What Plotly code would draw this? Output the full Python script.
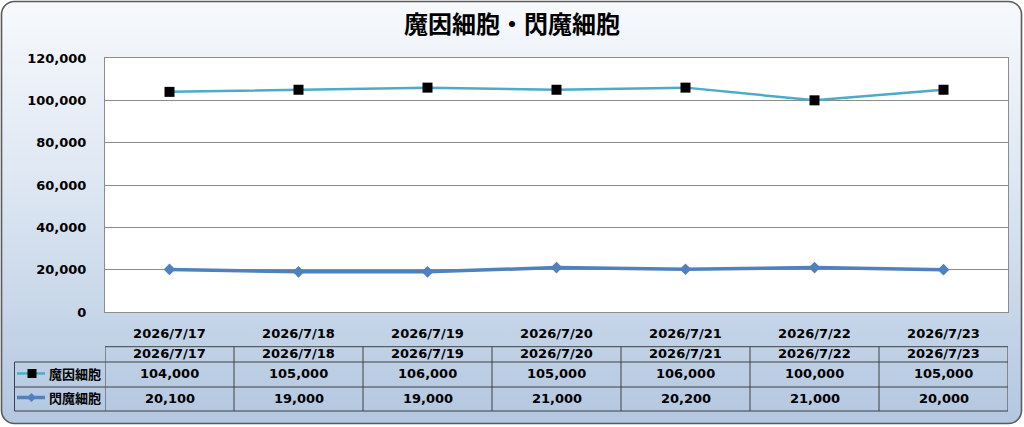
import base64
import plotly.graph_objects as go

# データ
dates = ['2026/7/17', '2026/7/18', '2026/7/19', '2026/7/20', '2026/7/21', '2026/7/22', '2026/7/23']
series_names = ['魔因細胞', '閃魔細胞']
maiin = [104000, 105000, 106000, 105000, 106000, 100000, 105000]
senma = [20100, 19000, 19000, 21000, 20200, 21000, 20000]
y_ticks = [0, 20000, 40000, 60000, 80000, 100000, 120000]

W, H = 1024, 427
L, R, T, B = 105, 1008, 58, 312   # plot area in pixels
PW, PH = R - L, B - T

def px(x):
    return (x - L) / PW

def py(y):
    return (B - y) / PH

NUM_FONT = 'DejaVu Sans, Noto Sans CJK JP'
JP_FONT = 'Noto Sans CJK JP'
LINE1 = '#4bacc6'
LINE2 = '#4f81bd'
GRID = '#8c8c8c'
TABLE_LINE = '#404040'

# 背景 (グラデーション + 角丸枠)
svg = f'''<svg xmlns="http://www.w3.org/2000/svg" width="{W}" height="{H}" viewBox="0 0 {W} {H}">
<defs><linearGradient id="g" x1="0" y1="0" x2="0" y2="1">
<stop offset="0" stop-color="#f7f9fc"/><stop offset="0.45" stop-color="#dce6f2"/><stop offset="1" stop-color="#b3c7e0"/>
</linearGradient></defs>
<rect x="1.5" y="1.5" width="{W-4}" height="{H-5}" rx="13" ry="13" fill="url(#g)" stroke="#5a5a5a" stroke-width="1.6"/>
</svg>'''
bg_src = 'data:image/svg+xml;base64,' + base64.b64encode(svg.encode()).decode()

fig = go.Figure()

fig.add_trace(go.Scatter(
    x=dates, y=maiin, name=series_names[0], mode='lines+markers',
    line=dict(color=LINE1, width=2.5),
    marker=dict(symbol='square', size=10, color='black'),
))
fig.add_trace(go.Scatter(
    x=dates, y=senma, name=series_names[1], mode='lines+markers',
    line=dict(color=LINE2, width=3.5),
    marker=dict(symbol='diamond', size=9, color=LINE2),
))

shapes = []
annotations = []

# プロットエリアの白地
shapes.append(dict(type='rect', xref='paper', yref='paper', x0=0, x1=1, y0=0, y1=1,
                   fillcolor='white', line=dict(width=0), layer='below'))

# データテーブル
y_head_top, y_head_bot, y_row1_bot, y_row2_bot = 346.7, 362, 387, 411
x_left = 14.5
n = len(dates)
tl = dict(color=TABLE_LINE, width=1)
shapes.append(dict(type='line', xref='paper', yref='paper', x0=px(L), x1=px(R),
                   y0=py(y_head_top), y1=py(y_head_top), line=tl))
for yy in (y_head_bot, y_row1_bot, y_row2_bot):
    shapes.append(dict(type='line', xref='paper', yref='paper', x0=px(x_left), x1=px(R),
                       y0=py(yy), y1=py(yy), line=tl))
shapes.append(dict(type='line', xref='paper', yref='paper', x0=px(x_left), x1=px(x_left),
                   y0=py(y_head_bot), y1=py(y_row2_bot), line=tl))
for i in range(n + 1):
    shapes.append(dict(type='line', xref='x', yref='paper', x0=i - 0.5, x1=i - 0.5,
                       y0=py(y_head_top), y1=py(y_row2_bot), line=tl))

cell_font = dict(family=NUM_FONT, size=13, color='black', weight='bold')
for i, d in enumerate(dates):
    annotations.append(dict(x=d, xref='x', y=py(353.5), yref='paper', text=d,
                            showarrow=False, font=cell_font, yanchor='middle'))
    annotations.append(dict(x=d, xref='x', y=py(373.5), yref='paper', text=f'{maiin[i]:,}',
                            showarrow=False, font=cell_font, yanchor='middle'))
    annotations.append(dict(x=d, xref='x', y=py(398), yref='paper', text=f'{senma[i]:,}',
                            showarrow=False, font=cell_font, yanchor='middle'))

# 凡例キー
for row_y, name, color, sym in ((373.5, series_names[0], LINE1, 'square'),
                                (397.5, series_names[1], LINE2, 'diamond')):
    shapes.append(dict(type='line', xref='paper', yref='paper', x0=px(17), x1=px(45),
                       y0=py(row_y), y1=py(row_y),
                       line=dict(color=color, width=2.5 if sym == 'square' else 3.5)))
    if sym == 'square':
        shapes.append(dict(type='rect', xref='paper', yref='paper',
                           x0=px(27.5), x1=px(36.5), y0=py(row_y - 4.5), y1=py(row_y + 4.5),
                           fillcolor='black', line=dict(width=0)))
    else:
        cx, cy, r = 31.5, row_y, 4.5
        path = (f'M {px(cx - r)} {py(cy)} L {px(cx)} {py(cy - r)} '
                f'L {px(cx + r)} {py(cy)} L {px(cx)} {py(cy + r)} Z')
        shapes.append(dict(type='path', xref='paper', yref='paper', path=path,
                           fillcolor=color, line=dict(width=0)))
    annotations.append(dict(x=px(47), xref='paper', y=py(row_y), yref='paper', text=name,
                            showarrow=False, xanchor='left', yanchor='middle',
                            font=dict(family=JP_FONT, size=13, color='black', weight='bold')))

fig.update_layout(
    width=W, height=H,
    margin=dict(l=L, r=W - R, t=T, b=H - B, pad=0),
    title=dict(text='魔因細胞・閃魔細胞', x=0.5, xref='container', xanchor='center',
               y=1 - 25 / H, yanchor='middle',
               font=dict(family=JP_FONT, size=24, color='black', weight='bold')),
    paper_bgcolor='white',
    plot_bgcolor='rgba(0,0,0,0)',
    showlegend=False,
    hovermode=False,
    images=[dict(source=bg_src, xref='paper', yref='paper', x=px(0), y=py(0),
                 sizex=W / PW, sizey=H / PH, sizing='stretch',
                 xanchor='left', yanchor='top', layer='below')],
    shapes=shapes,
    annotations=annotations,
    xaxis=dict(type='category', range=[-0.5, n - 0.5], showgrid=False,
               showline=True, linecolor=GRID, linewidth=1, mirror=True,
               ticks='', ticklabelstandoff=9,
               tickfont=dict(family=NUM_FONT, size=13, color='black', weight='bold')),
    yaxis=dict(range=[0, 120000], tickvals=y_ticks, ticktext=[f'{v:,}' for v in y_ticks],
               showgrid=True, gridcolor=GRID, gridwidth=1, zeroline=False,
               showline=True, linecolor=GRID, linewidth=1, mirror=True,
               ticks='', ticklabelstandoff=15,
               tickfont=dict(family=NUM_FONT, size=13, color='black', weight='bold')),
)

# ページ余白をなくす
fig.write_html('out.html', config=dict(displayModeBar=False),
               post_script="document.body.style.margin='0';")
